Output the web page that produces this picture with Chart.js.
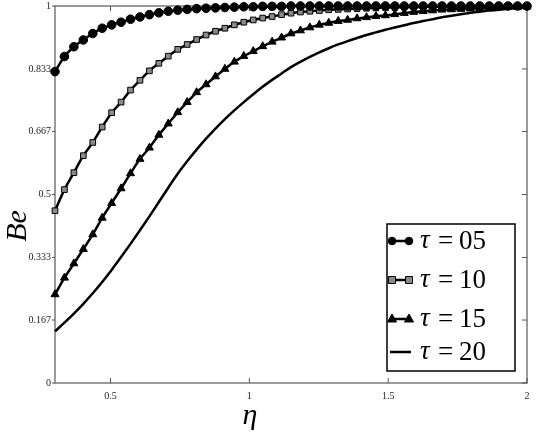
<!DOCTYPE html>
<html>
<head>
<meta charset="utf-8">
<script src="https://cdn.jsdelivr.net/npm/chart.js@4/dist/chart.umd.min.js"></script>
<style>
  html, body { margin: 0; padding: 0; background: #fff; }
  #chart { display: block; }
</style>
</head>
<body>
<canvas id="chart" width="536" height="436"></canvas>
<script>
// eta grid and Be values
const eta = [0.300, 0.334, 0.368, 0.402, 0.436, 0.470, 0.504, 0.538, 0.572, 0.606,
  0.640, 0.674, 0.708, 0.742, 0.776, 0.810, 0.844, 0.878, 0.912, 0.946,
  0.980, 1.014, 1.048, 1.082, 1.116, 1.150, 1.184, 1.218, 1.252, 1.286,
  1.320, 1.354, 1.388, 1.422, 1.456, 1.490, 1.524, 1.558, 1.592, 1.626,
  1.660, 1.694, 1.728, 1.762, 1.796, 1.830, 1.864, 1.898, 1.932, 1.966, 2.000];

const be05 = [0.826, 0.866, 0.892, 0.910, 0.927, 0.941, 0.950, 0.957, 0.965, 0.971,
  0.977, 0.982, 0.986, 0.989, 0.991, 0.993, 0.994, 0.995, 0.996, 0.997,
  0.998, 0.998, 0.999, 0.999, 0.999, 1.000, 1.000, 1.000, 1.000, 1.000,
  1.000, 1.000, 1.000, 1.000, 1.000, 1.000, 1.000, 1.000, 1.000, 1.000,
  1.000, 1.000, 1.000, 1.000, 1.000, 1.000, 1.000, 1.000, 1.000, 1.000, 1.000];

const be10 = [0.457, 0.513, 0.558, 0.603, 0.638, 0.679, 0.717, 0.745, 0.777, 0.803,
  0.828, 0.848, 0.867, 0.885, 0.898, 0.911, 0.923, 0.933, 0.941, 0.950,
  0.957, 0.963, 0.968, 0.972, 0.977, 0.981, 0.984, 0.986, 0.988, 0.990,
  0.991, 0.992, 0.993, 0.994, 0.995, 0.996, 0.996, 0.997, 0.997, 0.998,
  0.998, 0.998, 0.999, 0.999, 0.999, 0.999, 1.000, 1.000, 1.000, 1.000, 1.000];

const be15 = [0.235, 0.279, 0.317, 0.355, 0.394, 0.438, 0.477, 0.516, 0.556, 0.594,
  0.624, 0.658, 0.688, 0.718, 0.745, 0.771, 0.792, 0.813, 0.833, 0.852,
  0.867, 0.880, 0.893, 0.905, 0.916, 0.927, 0.935, 0.943, 0.950, 0.955,
  0.960, 0.963, 0.967, 0.970, 0.973, 0.975, 0.978, 0.981, 0.984, 0.986,
  0.988, 0.990, 0.991, 0.992, 0.993, 0.994, 0.995, 0.996, 0.997, 0.997, 0.998];

const be20 = [0.137, 0.160, 0.184, 0.210, 0.238, 0.268, 0.300, 0.334, 0.369, 0.405,
  0.442, 0.480, 0.518, 0.555, 0.588, 0.619, 0.648, 0.675, 0.700, 0.723,
  0.745, 0.766, 0.786, 0.804, 0.821, 0.838, 0.852, 0.865, 0.877, 0.888,
  0.898, 0.907, 0.915, 0.923, 0.930, 0.937, 0.943, 0.949, 0.955, 0.960,
  0.965, 0.970, 0.974, 0.978, 0.982, 0.985, 0.988, 0.990, 0.993, 0.995, 0.997];

const tauLabels = ['05', '10', '15', '20'];
const xTicks = [0.5, 1, 1.5, 2];
const xTickLabels = ['0.5', '1', '1.5', '2'];
const yTicks = [0, 0.167, 0.333, 0.5, 0.667, 0.833, 1];
const yTickLabels = ['0', '0.167', '0.333', '0.5', '0.667', '0.833', '1'];

function pts(ys) {
  return eta.map((x, i) => ({ x: x, y: ys[i] }));
}

const styles = [
  { pointStyle: 'circle', radius: 4.3, bg: '#000' },
  { pointStyle: 'rect', radius: 4, bg: '#8a8a8a' },
  { pointStyle: 'triangle', radius: 4.6, bg: '#000' },
  { pointStyle: false, radius: 0, bg: '#000' },
];

const allSeries = [be05, be10, be15, be20];
const datasets = allSeries.map((ys, i) => ({
  label: 'τ=' + tauLabels[i],
  data: pts(ys),
  borderColor: '#000',
  borderWidth: 2.5,
  backgroundColor: styles[i].bg,
  pointStyle: styles[i].pointStyle,
  pointRadius: styles[i].radius,
  pointBorderColor: '#000',
  pointBorderWidth: 1,
  pointBackgroundColor: styles[i].bg,
  cubicInterpolationMode: 'monotone',
  clip: 6,
}));

// frame, inward ticks, tick labels, axis titles and the boxed legend
const decor = {
  id: 'decor',
  beforeDatasetsDraw(chart) {
    const { ctx, chartArea: a, scales } = chart;
    ctx.save();
    ctx.strokeStyle = '#7a7a7a';
    ctx.lineWidth = 1.5;
    ctx.strokeRect(a.left, a.top, a.right - a.left, a.bottom - a.top);
    ctx.lineWidth = 1;
    ctx.strokeStyle = '#555';
    xTicks.forEach(v => {
      const px = scales.x.getPixelForValue(v);
      ctx.beginPath();
      ctx.moveTo(px, a.bottom); ctx.lineTo(px, a.bottom - 5);
      ctx.moveTo(px, a.top); ctx.lineTo(px, a.top + 5);
      ctx.stroke();
    });
    yTicks.forEach(v => {
      const py = scales.y.getPixelForValue(v);
      ctx.beginPath();
      ctx.moveTo(a.left - 3, py); ctx.lineTo(a.left, py);
      ctx.moveTo(a.right, py); ctx.lineTo(a.right - 5, py);
      ctx.stroke();
    });
    ctx.restore();
  },
  afterDraw(chart) {
    const { ctx, chartArea: a, scales } = chart;
    ctx.save();
    ctx.fillStyle = '#222';
    ctx.font = '10px "Liberation Serif"';
    ctx.textAlign = 'center';
    ctx.textBaseline = 'top';
    xTicks.forEach((v, i) => {
      ctx.fillText(xTickLabels[i], scales.x.getPixelForValue(v), a.bottom + 8);
    });
    ctx.textAlign = 'right';
    ctx.textBaseline = 'middle';
    yTicks.forEach((v, i) => {
      ctx.fillText(yTickLabels[i], a.left - 4, scales.y.getPixelForValue(v));
    });

    ctx.fillStyle = '#000';
    ctx.font = 'italic 30px "Liberation Serif"';
    ctx.textAlign = 'center';
    ctx.textBaseline = 'middle';
    ctx.fillText('η', 250, 416);
    ctx.save();
    ctx.translate(18, 226);
    ctx.rotate(-Math.PI / 2);
    ctx.fillText('Be', 0, 0);
    ctx.restore();

    // legend box
    const bx = 387, by = 224, bw = 128, bh = 147;
    ctx.fillStyle = '#fff';
    ctx.fillRect(bx, by, bw, bh);
    ctx.strokeStyle = '#000';
    ctx.lineWidth = 1.5;
    ctx.strokeRect(bx, by, bw, bh);
    const rows = [241, 280, 319, 352];
    chart.data.datasets.forEach((ds, i) => {
      const y = rows[i];
      ctx.strokeStyle = '#000';
      ctx.lineWidth = 2.5;
      ctx.beginPath();
      ctx.moveTo(390, y); ctx.lineTo(411, y);
      ctx.stroke();
      if (ds.pointStyle) {
        [392, 409].forEach(x => {
          ctx.fillStyle = ds.pointBackgroundColor;
          ctx.strokeStyle = '#000';
          ctx.lineWidth = 1;
          ctx.beginPath();
          if (ds.pointStyle === 'circle') {
            ctx.arc(x, y, 3.8, 0, Math.PI * 2);
          } else if (ds.pointStyle === 'rect') {
            ctx.rect(x - 3.5, y - 3.5, 7, 7);
          } else {
            ctx.moveTo(x, y - 5); ctx.lineTo(x + 4.5, y + 3); ctx.lineTo(x - 4.5, y + 3); ctx.closePath();
          }
          ctx.fill();
          ctx.stroke();
        });
      }
      ctx.fillStyle = '#000';
      ctx.textAlign = 'left';
      ctx.textBaseline = 'middle';
      ctx.font = 'italic 27px "Liberation Serif"';
      ctx.fillText('τ', 420, y);
      ctx.font = '27px "Liberation Serif"';
      ctx.fillText('=', 438, y + 1);
      ctx.fillText(tauLabels[i], 459, y + 1);
    });
    ctx.restore();
  }
};

new Chart(document.getElementById('chart'), {
  type: 'line',
  data: { datasets: datasets },
  options: {
    responsive: false,
    animation: false,
    layout: { padding: { left: 55, right: 9, top: 6, bottom: 53 } },
    scales: {
      x: { type: 'linear', min: 0.3, max: 2, display: false },
      y: { type: 'linear', min: 0, max: 1, display: false },
    },
    plugins: {
      legend: { display: false },
      tooltip: { enabled: false },
    },
  },
  plugins: [decor],
});
</script>
</body>
</html>
